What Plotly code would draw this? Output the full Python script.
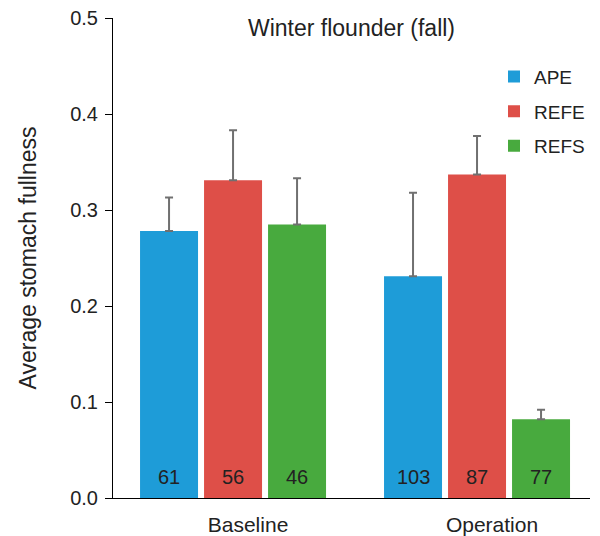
import plotly.graph_objects as go

# ---- data ----
periods = ["Baseline", "Operation"]
series_names = ["APE", "REFE", "REFS"]
ape_mean = [0.278, 0.231]
refe_mean = [0.331, 0.337]
refs_mean = [0.285, 0.082]
ape_err = [0.035, 0.087]
refe_err = [0.052, 0.040]
refs_err = [0.048, 0.010]
ape_n = [61, 103]
refe_n = [56, 87]
refs_n = [46, 77]
y_ticks = [0.0, 0.1, 0.2, 0.3, 0.4, 0.5]

colors = ["#1E9CD8", "#DE4F48", "#48AA3E"]
means = [ape_mean, refe_mean, refs_mean]
errs = [ape_err, refe_err, refs_err]
ns = [ape_n, refe_n, refs_n]

FONT = "Liberation Sans, Arial, Helvetica, sans-serif"
TXT = "#222222"
BARGAP = 0.213
GROUPGAP = 0.094

fig = go.Figure()
for i, name in enumerate(series_names):
    fig.add_trace(go.Bar(
        x=list(range(len(periods))), y=means[i], name=name,
        marker=dict(color=colors[i], line=dict(width=0)),
        legendgroup=name,
        error_y=dict(type="data", symmetric=False, array=errs[i],
                     arrayminus=[0] * len(periods),
                     color="#707070", thickness=2, width=4),
    ))

# sample-size labels at the base of each bar
slot = (1 - BARGAP) / len(series_names)
annotations = []
for i in range(len(series_names)):
    for j in range(len(periods)):
        annotations.append(dict(
            x=j + (i - 1) * slot, y=0, xref="x", yref="y",
            text=str(ns[i][j]), showarrow=False, yanchor="middle",
            yshift=21, font=dict(family=FONT, size=20, color=TXT)))

fig.update_layout(
    width=600, height=536,
    margin=dict(l=113, r=10, t=18, b=38),
    paper_bgcolor="white", plot_bgcolor="white",
    barmode="group", bargap=BARGAP, bargroupgap=GROUPGAP,
    font=dict(family=FONT, size=20, color=TXT),
    title=dict(text="Winter flounder (fall)", xref="paper", x=0.5, xanchor="center",
               yref="container", y=0.948, yanchor="middle", automargin=False,
               font=dict(family=FONT, size=23, color=TXT)),
    legend=dict(x=1.0, y=0.9175, xanchor="right", yanchor="top",
                bgcolor="rgba(0,0,0,0)", tracegroupgap=7, borderwidth=0,
                font=dict(family=FONT, size=19, color=TXT)),
    annotations=annotations,
    xaxis=dict(tickmode="array", tickvals=list(range(len(periods))), ticktext=periods,
               range=[-0.492, 1.463], showline=True, linecolor="black", linewidth=1,
               ticks="", showgrid=False, zeroline=False, automargin=False,
               ticklabelshift=15, ticklabelstandoff=8,
               tickfont=dict(family=FONT, size=21, color=TXT)),
    yaxis=dict(range=[0, 0.5], tickvals=y_ticks, tickformat=".1f",
               showline=True, linecolor="black", linewidth=1, automargin=False,
               ticks="outside", ticklen=7, tickcolor="black", tickwidth=1,
               showgrid=False, zeroline=False, ticklabelstandoff=3,
               tickfont=dict(family=FONT, size=20, color=TXT),
               title=dict(text="Average stomach fullness", standoff=27,
                          font=dict(family=FONT, size=23, color=TXT))),
)

fig.write_html("out.html", config={"displayModeBar": False},
               post_script="document.body.style.margin='0';")
